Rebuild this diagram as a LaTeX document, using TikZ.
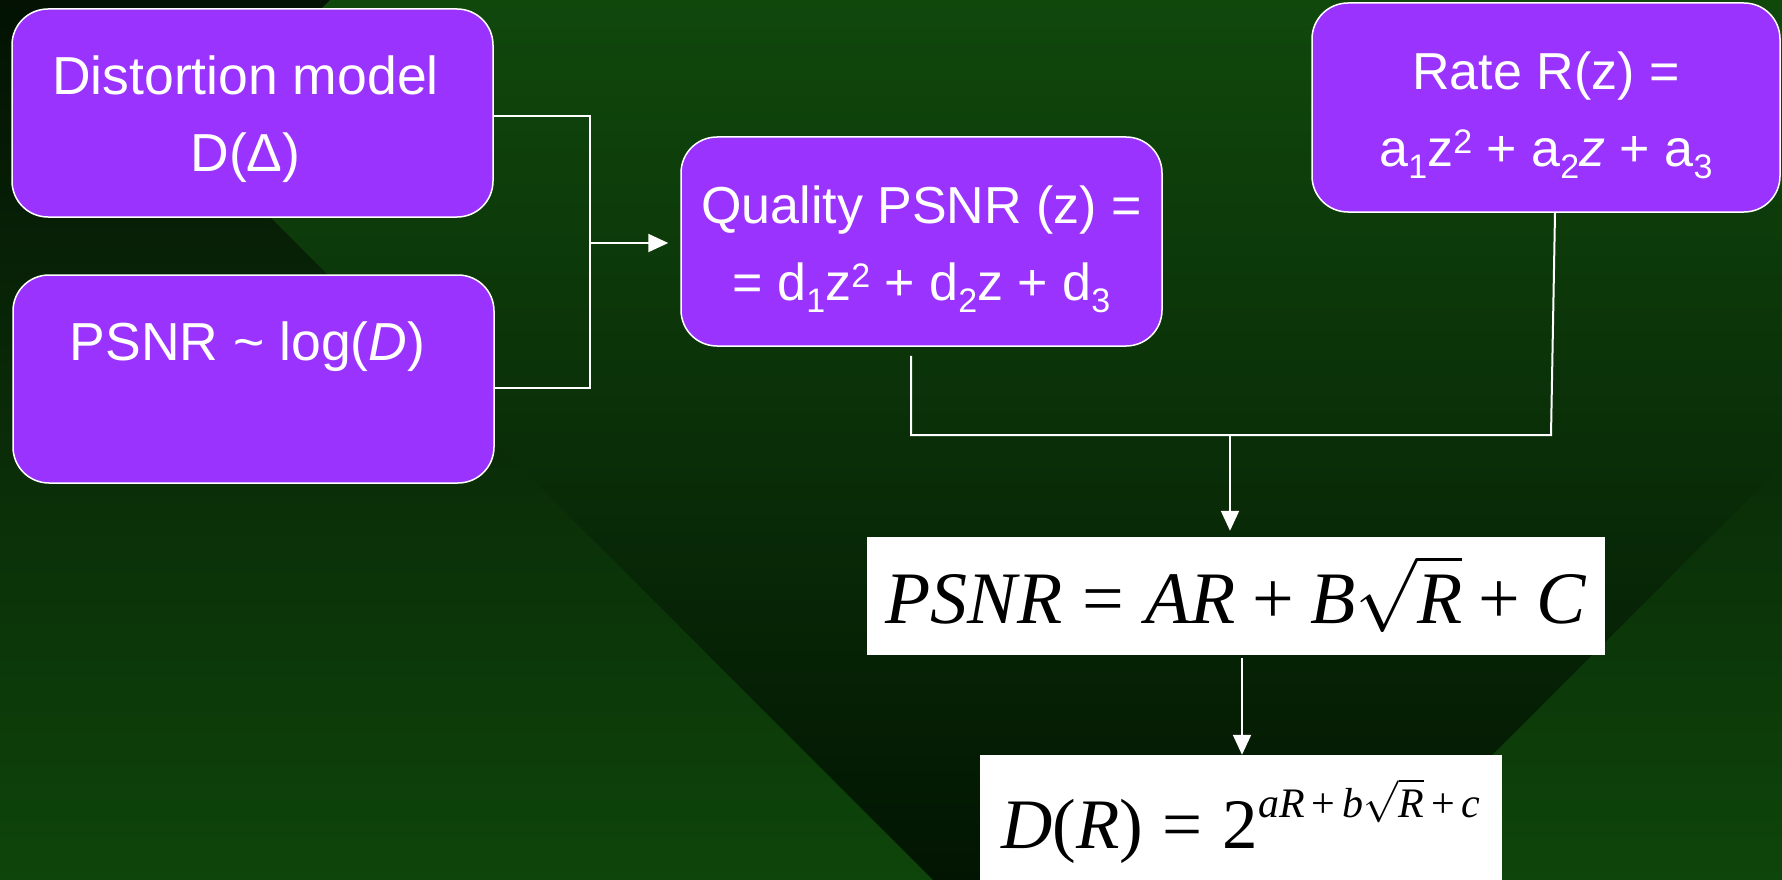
\documentclass[tikz,border=0pt]{standalone}
\usepackage{graphicx}
\usepackage{fontspec}
\setmainfont{Liberation Sans}
\newfontfamily\tms{Liberation Serif}
\usetikzlibrary{arrows.meta,calc}

\definecolor{boxfill}{HTML}{9B33FF}
\definecolor{bgtop}{HTML}{031203}
\definecolor{bgmid}{HTML}{0A2C08}
\definecolor{bgbot}{HTML}{0E450A}
\definecolor{wtop}{HTML}{10480C}
\definecolor{wmid}{HTML}{0A2F08}
\definecolor{wbot}{HTML}{021502}

% subscripts and superscripts in the box captions
\newcommand\sbx[1]{\raisebox{-12pt}{\fontsize{34}{34}\selectfont #1}}
\newcommand\spx[1]{\raisebox{13pt}{\fontsize{34}{34}\selectfont #1}}
% Times-like pieces of the formulas (set at 10pt, then enlarged)
\newcommand\iv[1]{\mbox{\tms\itshape #1}}
\newcommand\ro[1]{\mbox{\tms #1}}

\tikzset{
  box/.style={draw=white, line width=1.5pt, fill=boxfill, rounded corners=36pt,
    text=white, align=center, inner sep=0pt,
    font=\fontsize{52}{77}\selectfont},
  bigtext/.style={font=\fontsize{53.5}{77}\selectfont},
  eqbox/.style={fill=white, inner sep=0pt, text=black},
  conn/.style={draw=white, line width=2pt},
  arr/.style={conn, -{Triangle[width=18pt,length=20pt]}}
}

\begin{document}
\begin{tikzpicture}[x=1pt,y=-1pt]
\useasboundingbox (0,0) rectangle (1782,880);

% backdrop: vertical gradient with a darker tilted square over it
\shade[top color=bgtop, bottom color=bgbot, middle color=bgmid]
  (0,0) rectangle (1782,880);
\begin{scope}
  \clip (191.5,138.5) -- (1150,1097) -- (2650,-403) -- (1691.5,-1361.5) -- cycle;
  \shade[top color=wtop, bottom color=wbot, middle color=wmid]
    (0,0) rectangle (1782,880);
\end{scope}

% boxes
\node[box, bigtext, minimum width=481pt, minimum height=208pt] (b1) at (252.5,113)
  {\rule{0pt}{60pt}Distortion model\hspace*{14pt}\\D(Δ)\hspace*{14pt}\rule[-20pt]{0pt}{20pt}};
\node[box, bigtext, minimum width=481pt, minimum height=208pt] (b2) at (253.5,379)
  {\rule{0pt}{60pt}PSNR \textasciitilde{} log(\textit{D})\hspace*{12pt}\\\rule[-20pt]{0pt}{20pt}};
\node[box, minimum width=481pt, minimum height=209pt] (b3) at (921.5,241.5)
  {\rule{0pt}{60pt}Quality PSNR (z) =\\= d\sbx{1}z\spx{2} + d\sbx{2}z + d\sbx{3}\rule[-20pt]{0pt}{20pt}};
\node[box, minimum width=468pt, minimum height=209pt] (b4) at (1546,107.5)
  {\rule{0pt}{60pt}Rate R(z) =\\a\sbx{1}z\spx{2} + a\sbx{2}\textit{z} + a\sbx{3}\rule[-20pt]{0pt}{20pt}};

% formulas (baselines placed explicitly below the node centres)
\node[eqbox, minimum width=738pt, minimum height=118pt] (psnr) at (1236,596)
  {\raisebox{-27pt}[0pt][0pt]{\scalebox{7.4}{\fontsize{10}{12}\selectfont
   $\iv{PSNR}\mathrel{\ro{=}}\iv{AR}\mathbin{\ro{+}}\iv{B}\sqrt{\iv{R}}\mathbin{\ro{+}}\iv{C}$}}};
\node[eqbox, minimum width=522pt, minimum height=150pt] (dr) at (1241,830)
  {\raisebox{-18pt}[0pt][0pt]{\scalebox{7.1}{\fontsize{10}{12}\selectfont
   $\iv{D}\ro{(}\iv{R}\ro{)}\mathrel{\ro{=}}\ro{2}$}\raisebox{31pt}{\scalebox{4.2}{\fontsize{10}{12}\selectfont
   $\iv{aR}\,\ro{+}\,\iv{b}\sqrt{\iv{R}}\,\ro{+}\,\iv{c}$}}}};

% connectors
\coordinate (j1) at (590,116);
\coordinate (j2) at (590,388);
\coordinate (jm) at (590,243);
\draw[conn] (b1.east |- j1) -- (j1) -- (j2) -- (b2.east |- j2);
\draw[arr, shorten >=12pt] (jm) -- (b3.west |- jm);

\coordinate (k1) at (911,435);
\coordinate (k2) at (1551,435);
\coordinate (km) at (1230,435);
\draw[conn] ($(b3.south -| k1)+(0,9)$) -- (k1) -- (k2) -- ($(b4.south)+(9,0)$);
\draw[arr, shorten >=6pt] (km) -- (psnr.north -| km);

\coordinate (m1) at (1242,658);
\draw[arr, shorten <=3pt] (psnr.south -| m1) -- (dr.north -| m1);
\end{tikzpicture}
\end{document}
